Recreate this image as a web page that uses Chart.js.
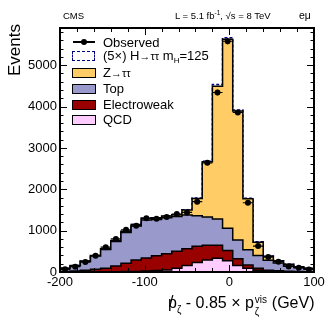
<!DOCTYPE html>
<html><head><meta charset="utf-8">
<script src="https://cdn.jsdelivr.net/npm/chart.js@4/dist/chart.umd.min.js"></script>
<style>
html,body{margin:0;padding:0;background:#fff;}
#wrap{position:relative;width:332px;height:321px;font-family:"Liberation Sans",Arial,Helvetica,sans-serif;color:#000;overflow:hidden;}
canvas{position:absolute;left:0;top:0;}
.t{position:absolute;white-space:nowrap;line-height:1;}
.sw{position:absolute;left:72px;width:22px;height:8px;border:1px solid #000;}
.sm{font-size:11px;}
</style></head><body>
<div id="wrap">
<canvas id="c" width="332" height="321"></canvas>
<div class="t" style="left:63px;top:11px;font-size:9.5px;">CMS</div>
<div class="t" style="left:175px;top:10px;font-size:9.5px;">L = 5.1 fb<sup style="font-size:6.5px;vertical-align:4px;">-1</sup>, √s = 8 TeV</div>
<div class="t" style="left:299px;top:10px;font-size:10.5px;">eμ</div>

<div class="t" style="left:73px;top:41px;width:22px;height:1.5px;background:#000;"></div>
<div class="t" style="left:81px;top:39px;width:6px;height:6px;border-radius:50%;background:#000;"></div>
<div class="t" style="left:103px;top:36px;font-size:13px;">Observed</div>

<div class="sw" style="top:51px;border:1.5px dashed #000080;width:21px;background:#fff;"></div>
<div class="t" style="left:103px;top:49px;font-size:13px;">(5×) H<span class="sm">→ττ</span> m<sub style="font-size:8px;vertical-align:-3px;">H</sub>=125</div>

<div class="sw" style="top:68px;background:#FFCC66;"></div>
<div class="t" style="left:103px;top:66px;font-size:13px;">Z<span class="sm">→ττ</span></div>

<div class="sw" style="top:84px;background:#9999CC;"></div>
<div class="t" style="left:103px;top:82px;font-size:13px;">Top</div>

<div class="sw" style="top:100px;background:#990000;"></div>
<div class="t" style="left:103px;top:98px;font-size:13px;">Electroweak</div>

<div class="sw" style="top:115px;background:#FFCCFF;"></div>
<div class="t" style="left:103px;top:113px;font-size:13px;">QCD</div>

<div class="t" style="left:6px;top:24px;font-size:17px;writing-mode:vertical-rl;transform:rotate(180deg);">Events</div>

<div class="t" style="left:168px;top:295px;font-size:16px;"><span style="position:relative;display:inline-block;">p<span style="position:absolute;left:1px;top:-1px;font-size:16px;">/</span></span><sub style="font-size:10px;vertical-align:-5px;">ζ</sub> - 0.85 × p<span style="display:inline-block;position:relative;width:18px;height:10px;"><span style="position:absolute;left:1px;top:-3px;font-size:10px;">vis</span><span style="position:absolute;left:1px;top:9px;font-size:10px;">ζ</span></span>(GeV)</div>
</div>
<script>
const binEdges = [-200,-188,-176,-164,-152,-140,-128,-116,-104,-92,-80,-68,-56,-44,-32,-20,-8,4,16,28,40,52,64,76,88,100];
const qcd         = [0,0,0,0,0,5,10,15,25,35,50,90,160,230,290,330,270,160,90,45,20,10,5,3,2];
const electroweak = [15,25,40,65,90,140,200,275,315,355,390,410,400,390,355,315,250,160,80,45,25,20,15,9,6];
const topQuark    = [69,127,213,320,455,590,745,825,917,880,870,840,817,740,685,635,535,453,370,310,240,190,125,98,64];
const ztautau     = [5,8,12,15,20,25,30,35,40,40,45,45,121,420,1334,3213,4573,3123,1230,320,95,53,45,15,16];
const higgs5x     = [0,0,0,0,0,0,0,0,0,0,0,0,5,10,15,40,35,20,15,10,5,2,0,0,0];
const observed    = [65,128,240,395,600,800,1020,1120,1300,1290,1330,1400,1440,1700,2640,4340,5580,3857,1675,628,360,250,135,100,60];
const xTicks = [-200,-100,0,100];
const yTicks = [0,1000,2000,3000,4000,5000];

function stepData(vals){ return binEdges.map((e,i)=>({x:e, y: vals[Math.min(i, vals.length-1)]})); }
const obsData = observed.map((v,i)=>({x:(binEdges[i]+binEdges[i+1])/2, y:v}));

function stack(label, vals, color){
  return {label, data: stepData(vals), stepped:true, backgroundColor:color, borderColor:'#000', borderWidth:1.5,
    pointRadius:0, fill: label==='QCD' ? 'origin' : '-1', stack:'mc'};
}

const framePlugin = {
  id:'frame',
  afterDatasetsDraw(chart){
    const ctx = chart.ctx, a = chart.chartArea, xs = chart.scales.x, ys = chart.scales.y;
    ctx.save();
    ctx.strokeStyle = '#000'; ctx.lineWidth = 1.2;
    observed.forEach((v,i)=>{
      const xl = xs.getPixelForValue(binEdges[i]), xr = xs.getPixelForValue(binEdges[i+1]);
      const yc = ys.getPixelForValue(v);
      const e = Math.sqrt(v);
      ctx.beginPath();
      ctx.moveTo(xl, yc); ctx.lineTo(xr, yc);
      ctx.moveTo((xl+xr)/2, ys.getPixelForValue(v-e)); ctx.lineTo((xl+xr)/2, ys.getPixelForValue(v+e));
      ctx.stroke();
    });
    ctx.lineWidth = 1;
    ctx.beginPath();
    for(let v=0; v<=ys.max; v+=200){
      const y = Math.round(ys.getPixelForValue(v))+0.5;
      const L = (v%1000===0)?7:3.5;
      ctx.moveTo(a.left, y); ctx.lineTo(a.left+L, y);
      ctx.moveTo(a.right, y); ctx.lineTo(a.right-L, y);
    }
    for(let v=xs.min; v<=xs.max; v+=20){
      const x = Math.round(xs.getPixelForValue(v))+0.5;
      const L = (v%100===0)?7:4;
      ctx.moveTo(x, a.bottom); ctx.lineTo(x, a.bottom-L);
      ctx.moveTo(x, a.top); ctx.lineTo(x, a.top+L);
    }
    ctx.stroke();
    ctx.lineWidth = 2;
    ctx.strokeRect(a.left, a.top, a.right-a.left, a.bottom-a.top);
    ctx.restore();
  }
};

new Chart(document.getElementById('c'), {
  type:'line',
  data:{ datasets:[
    {label:'Observed', data: obsData, showLine:false, pointRadius:3, pointBackgroundColor:'#000', pointBorderColor:'#000', stack:'obs', borderWidth:0},
    stack('QCD', qcd, '#FFCCFF'),
    stack('Electroweak', electroweak, '#990000'),
    stack('Top', topQuark, '#9999CC'),
    stack('Z→ττ', ztautau, '#FFCC66'),
    {label:'(5×) H→ττ', data: stepData(higgs5x), stepped:true, borderColor:'#000080', borderDash:[3,2], borderWidth:1.5, pointRadius:0, fill:false, stack:'mc'}
  ]},
  options:{
    responsive:false, animation:false,
    layout:{padding:{top:28, right:18, left:0, bottom:0}},
    plugins:{legend:{display:false}, tooltip:{enabled:false}},
    scales:{
      x:{type:'linear', min:-200, max:100,
        afterBuildTicks(s){ s.ticks = xTicks.map(v=>({value:v})); },
        afterFit(s){ s.height = 49; },
        grid:{display:false, drawTicks:false}, border:{display:false},
        ticks:{color:'#000', font:{family:'"Liberation Sans", Arial', size:13}, padding:3, maxRotation:0, autoSkip:false,
          callback:(v)=>String(v)}},
      y:{min:0, max:5900, stacked:true,
        afterBuildTicks(s){ s.ticks = yTicks.map(v=>({value:v})); },
        afterFit(s){ s.width = 60; },
        grid:{display:false, drawTicks:false}, border:{display:false},
        ticks:{color:'#000', font:{family:'"Liberation Sans", Arial', size:13}, padding:3,
          callback:(v)=>String(v)}}
    }
  },
  plugins:[framePlugin]
});
</script>
</body></html>
